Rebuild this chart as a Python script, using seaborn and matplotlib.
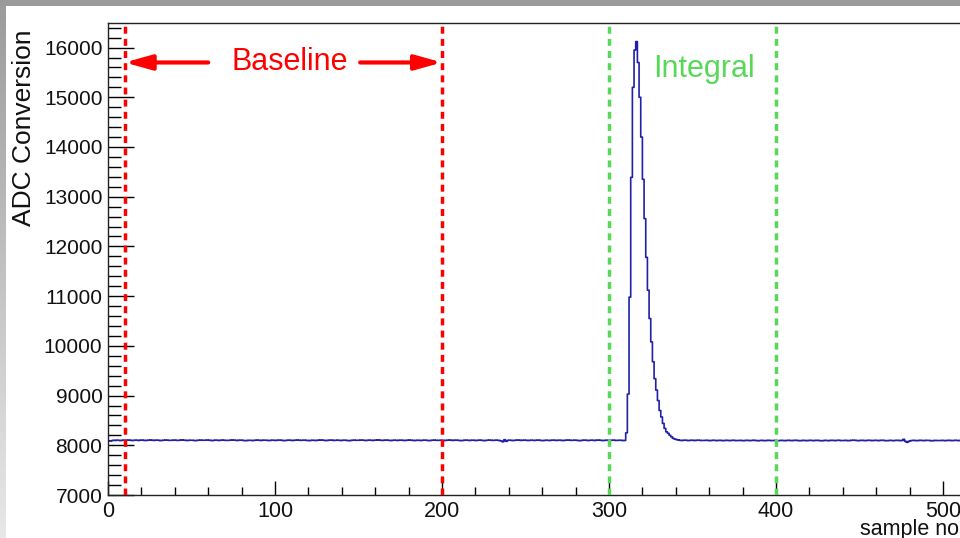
import matplotlib
matplotlib.use('Agg')
import numpy as np
import pandas as pd
import matplotlib.pyplot as plt
import seaborn as sns
from matplotlib.ticker import MultipleLocator, FixedLocator
from matplotlib.patches import Rectangle

# ---------------- data ----------------
adc = [
    8090, 8086, 8094, 8101, 8097, 8103, 8099, 8095, 8100, 8104, 8098, 8102, 8106, 8100, 8096, 8099, 8104, 8101, 8097, 8102,
    8105, 8100, 8096, 8099, 8103, 8107, 8102, 8098, 8101, 8104, 8099, 8095, 8098, 8102, 8106, 8103, 8099, 8097, 8101, 8105,
    8102, 8098, 8100, 8104, 8108, 8103, 8099, 8096, 8100, 8103, 8101, 8097, 8094, 8098, 8102, 8105, 8101, 8099, 8103, 8106,
    8102, 8098, 8095, 8099, 8104, 8100, 8097, 8101, 8105, 8102, 8098, 8096, 8100, 8103, 8107, 8104, 8100, 8097, 8101, 8104,
    8100, 8096, 8093, 8097, 8101, 8099, 8095, 8098, 8102, 8105, 8101, 8097, 8100, 8104, 8102, 8098, 8095, 8099, 8103, 8100,
    8097, 8101, 8105, 8102, 8098, 8094, 8097, 8101, 8104, 8100, 8096, 8099, 8103, 8106, 8102, 8099, 8101, 8104, 8100, 8097,
    8094, 8098, 8102, 8099, 8096, 8100, 8104, 8107, 8103, 8099, 8095, 8098, 8102, 8105, 8101, 8097, 8100, 8103, 8099, 8096,
    8099, 8103, 8100, 8096, 8093, 8097, 8101, 8104, 8100, 8098, 8102, 8106, 8103, 8099, 8096, 8100, 8104, 8101, 8097, 8100,
    8104, 8108, 8104, 8100, 8097, 8101, 8105, 8102, 8098, 8095, 8099, 8103, 8100, 8097, 8101, 8104, 8100, 8096, 8099, 8102,
    8106, 8102, 8099, 8095, 8098, 8102, 8099, 8096, 8100, 8104, 8101, 8097, 8094, 8098, 8102, 8105, 8101, 8098, 8100, 8103,
    8100, 8096, 8099, 8103, 8106, 8102, 8098, 8101, 8104, 8100, 8097, 8093, 8097, 8101, 8104, 8100, 8097, 8100, 8103, 8099,
    8096, 8100, 8104, 8101, 8097, 8094, 8098, 8102, 8105, 8101, 8098, 8100, 8104, 8100, 8096, 8088, 8070, 8112, 8080, 8098,
    8103, 8099, 8095, 8099, 8102, 8106, 8102, 8098, 8101, 8104, 8100, 8096, 8099, 8103, 8100, 8097, 8101, 8105, 8101, 8097,
    8094, 8098, 8102, 8099, 8096, 8100, 8104, 8101, 8097, 8100, 8103, 8099, 8095, 8099, 8102, 8106, 8102, 8099, 8101, 8104,
    8100, 8097, 8093, 8097, 8101, 8104, 8100, 8096, 8099, 8103, 8100, 8097, 8101, 8105, 8102, 8098, 8095, 8099, 8102, 8099,
    8096, 8100, 8104, 8100, 8097, 8099, 8102, 8098, 8095, 8098, 8250, 9030, 10980, 13390, 15200, 15950, 16120, 15700, 15000, 14200,
    13350, 12560, 11780, 11120, 10550, 10080, 9680, 9340, 9110, 8900, 8700, 8570, 8440, 8340, 8270, 8240, 8200, 8170, 8140, 8125,
    8115, 8108, 8100, 8096, 8099, 8103, 8099, 8095, 8098, 8102, 8099, 8096, 8100, 8103, 8099, 8096, 8094, 8098, 8101, 8097,
    8094, 8097, 8101, 8098, 8094, 8097, 8100, 8096, 8093, 8097, 8100, 8097, 8094, 8098, 8101, 8097, 8094, 8096, 8099, 8096,
    8093, 8096, 8100, 8097, 8094, 8097, 8101, 8098, 8095, 8092, 8096, 8099, 8096, 8093, 8097, 8100, 8097, 8094, 8096, 8099,
    8096, 8093, 8096, 8099, 8096, 8093, 8097, 8100, 8097, 8094, 8097, 8101, 8098, 8095, 8092, 8096, 8099, 8096, 8093, 8097,
    8100, 8097, 8094, 8097, 8100, 8097, 8094, 8091, 8095, 8099, 8096, 8093, 8097, 8100, 8097, 8094, 8098, 8101, 8097, 8094,
    8096, 8099, 8096, 8093, 8097, 8100, 8103, 8099, 8096, 8093, 8097, 8100, 8097, 8094, 8097, 8101, 8098, 8094, 8097, 8100,
    8097, 8094, 8098, 8101, 8098, 8095, 8092, 8096, 8099, 8096, 8093, 8097, 8100, 8097, 8094, 8098, 8120, 8080, 8060, 8078,
    8092, 8096, 8099, 8096, 8093, 8097, 8100, 8097, 8094, 8097, 8100, 8098, 8094, 8091, 8095, 8098, 8095, 8093, 8096, 8099,
    8096, 8093, 8097, 8100, 8097, 8094, 8097, 8100, 8097, 8094, 8098, 8101, 8097, 8094, 8097, 8100, 8097, 8095, 8098, 8100,
]
sample = list(range(len(adc)))

baseline_window = [10, 200]
integral_window = [300, 400]
x_ticks = [0, 100, 200, 300, 400, 500, 600]
y_ticks = [7000, 8000, 9000, 10000, 11000, 12000, 13000, 14000, 15000, 16000]
baseline_label = "Baseline"
integral_label = "Integral"
x_title = "sample no"
y_title = "ADC Conversion"

df = pd.DataFrame({"sample": sample, "adc": adc})

# ---------------- style ----------------
sns.set_theme(style="white")
plt.rcParams['font.family'] = ['Liberation Sans', 'DejaVu Sans']

RED = '#ff0000'
GREEN = '#57d957'
BLUE = '#2020a8'

W, H = 960, 538
fig = plt.figure(figsize=(9.6, 5.38), dpi=100)
fig.patch.set_facecolor('white')

# frame: x=0 at px 108, 100 units = 167 px ; y 7000 at px 495, top at px 22.7
left = 108 / W
bottom = (H - 495) / H
height = (495 - 22.7) / H
width = (600 * 1.67) / W
ax = fig.add_axes([left, bottom, width, height])

sns.lineplot(data=df, x="sample", y="adc", drawstyle='steps-post', color=BLUE,
             linewidth=1.2, estimator=None, sort=False, ax=ax)

ax.set_xlim(0, 600)
ax.set_ylim(7000, 16500)

for xv in baseline_window:
    ax.axvline(xv, color=RED, lw=2.5, linestyle=(0, (2.0, 1.5)), zorder=3)
for xv in integral_window:
    ax.axvline(xv, color=GREEN, lw=2.5, linestyle=(0, (2.0, 1.5)), zorder=3)

# arrows and labels
arrow_y = 15700
ax.annotate("", xy=(baseline_window[0], arrow_y), xytext=(60, arrow_y),
            arrowprops=dict(arrowstyle='-|>,head_length=1.0,head_width=0.28', color=RED,
                            lw=3, mutation_scale=16, shrinkA=0, shrinkB=0))
ax.annotate("", xy=(baseline_window[1], arrow_y), xytext=(151, arrow_y),
            arrowprops=dict(arrowstyle='-|>,head_length=1.0,head_width=0.28', color=RED,
                            lw=3, mutation_scale=16, shrinkA=0, shrinkB=0))
ax.text(109, arrow_y, baseline_label, color=RED, fontsize=22, ha='center', va='center')
ax.text(326.5, 15560, integral_label, color=GREEN, fontsize=22, ha='left', va='center')

# ticks ROOT-like
ax.xaxis.set_major_locator(FixedLocator(x_ticks))
ax.yaxis.set_major_locator(FixedLocator(y_ticks))
ax.xaxis.set_minor_locator(MultipleLocator(20))
ax.yaxis.set_minor_locator(MultipleLocator(200))
ax.tick_params(axis='y', which='major', direction='in', length=18.7, width=1.0,
               color='black', labelsize=15, pad=4, left=True, right=False)
ax.tick_params(axis='y', which='minor', direction='in', length=9.4, width=1.0,
               color='black', left=True, right=False)
ax.tick_params(axis='x', which='major', direction='in', length=10, width=1.0,
               color='black', labelsize=15.5, pad=4, bottom=True, top=False)
ax.tick_params(axis='x', which='minor', direction='in', length=5.6, width=1.0,
               color='black', bottom=True, top=False)
for lab in ax.get_xticklabels() + ax.get_yticklabels():
    lab.set_color('#111111')
ax.set_xlabel("")
ax.set_ylabel("")
for s in ax.spines.values():
    s.set_color('#222222')
    s.set_linewidth(1.0)
ax.grid(False)

fig.text(24 / W, 1 - 30 / H, y_title, rotation=90, ha='center', va='top', fontsize=19, color='#111111')
fig.text(860 / W, 3 / H, x_title, ha='left', va='baseline', fontsize=15.5, color='#111111')

# gray window border (top strip + left gradient strip)
fig.add_artist(Rectangle((0, 1 - 6 / H), 1, 6 / H, transform=fig.transFigure,
                         facecolor='#9a9a9a', edgecolor='none', zorder=10))
gax = fig.add_axes([0, 0, 6 / W, 1 - 6 / H])
grad = np.linspace(0, 1, 256).reshape(-1, 1)
gax.imshow(grad, aspect='auto', cmap=sns.blend_palette(['#9c9c9c', '#e8e8e8'], as_cmap=True),
           extent=[0, 1, 0, 1], origin='upper')
gax.set_axis_off()

fig.savefig('out.png', dpi=100)
